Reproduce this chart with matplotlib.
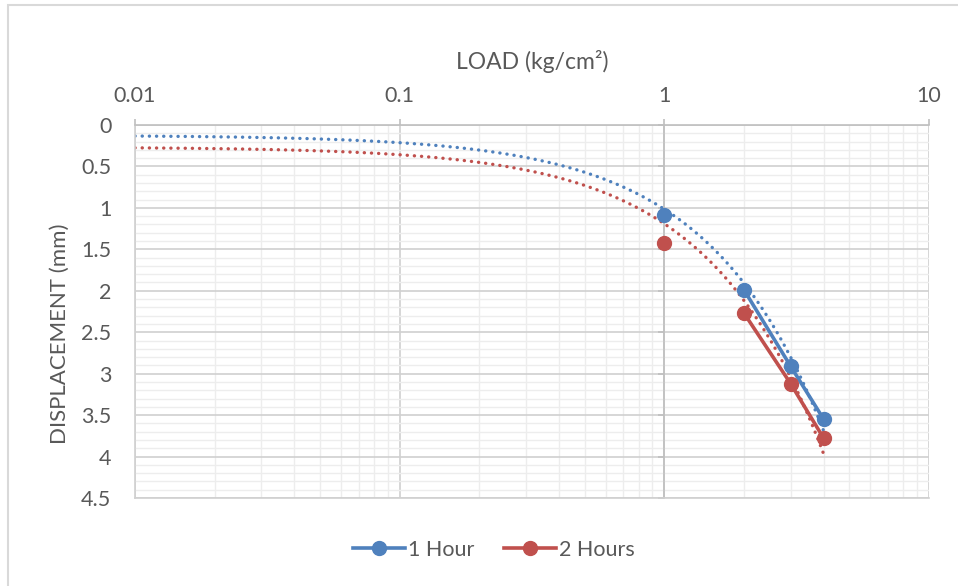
import numpy as np
import matplotlib.pyplot as plt
from matplotlib.ticker import FixedLocator, NullFormatter, MultipleLocator
from matplotlib.patches import Rectangle

# Load (kg/cm2) and displacement (mm) readings
load = [0, 1, 2, 3, 4]
disp_1h = [0, 1.09, 1.99, 2.91, 3.55]
disp_2h = [0, 1.42, 2.27, 3.12, 3.78]

series_names = ["1 Hour", "2 Hours"]
colors = ["#4F81BD", "#C0504D"]
y_ticks = [0, 0.5, 1, 1.5, 2, 2.5, 3, 3.5, 4, 4.5]
x_ticks = [0.01, 0.1, 1, 10]
x_tick_labels = ["0.01", "0.1", "1", "10"]

plt.rcParams["font.family"] = ["Lato", "DejaVu Sans"]
text_col = "#595959"

fig = plt.figure(figsize=(9.58, 5.86), dpi=100)
ax = fig.add_axes([135 / 958, 1 - 498 / 586, 794 / 958, 373 / 586])

# chart border
fig.patches.append(Rectangle((8 / 958, -0.02), 1.0, 1 - 5 / 586 + 0.02,
                             transform=fig.transFigure, fill=False,
                             edgecolor="#D9D9D9", lw=1.5))

ax.set_xscale("log")
ax.set_xlim(0.01, 10)
ax.set_ylim(4.5, 0)

ax.xaxis.set_major_locator(FixedLocator(x_ticks))
ax.xaxis.set_minor_locator(FixedLocator([m * 10.0 ** e for e in range(-2, 1) for m in range(2, 10)]))
ax.xaxis.set_minor_formatter(NullFormatter())
ax.set_xticklabels(x_tick_labels)
ax.yaxis.set_major_locator(FixedLocator(y_ticks))
ax.yaxis.set_minor_locator(MultipleLocator(0.1))
ax.set_yticklabels([f"{v:g}" for v in y_ticks])

ax.grid(True, which="major", color="#D0D0D0", lw=1.2)
ax.grid(True, which="minor", color="#EDEDED", lw=1.0)
ax.set_axisbelow(True)

ax.xaxis.tick_top()
ax.xaxis.set_label_position("top")
ax.tick_params(axis="x", which="major", direction="out", length=4, width=1.2,
               color="#BFBFBF", pad=10, labelsize=15.5, labelcolor=text_col)
ax.tick_params(axis="x", which="minor", length=0)

# vertical axis crosses at x = 1 (Excel log-axis default), labels sit at the low side
ax.spines["right"].set_position(("data", 1))
ax.tick_params(axis="y", which="major", left=False, right=True, labelleft=True,
               labelright=False, direction="in", length=4, width=1.2,
               color="#BFBFBF", pad=17, labelsize=15.5, labelcolor=text_col)
ax.tick_params(axis="y", which="minor", left=False, right=False)

for s in ["left", "bottom"]:
    ax.spines[s].set_color("#D0D0D0")
    ax.spines[s].set_linewidth(1.2)
ax.spines["top"].set_color("#BFBFBF")
ax.spines["top"].set_linewidth(1.2)
ax.spines["right"].set_color("#BFBFBF")
ax.spines["right"].set_linewidth(1.2)

x = np.array(load, dtype=float)
for name, ys, c in zip(series_names, [disp_1h, disp_2h], colors):
    ys = np.array(ys)
    # linear trendline (Excel), fitted on the full data set
    slope, icpt = np.polyfit(x, ys, 1)
    xt = np.geomspace(0.01, max(load), 400)
    ax.plot(xt, slope * xt + icpt, color=c, lw=2.4, linestyle=(0, (0.05, 2.1)),
            dash_capstyle="round", zorder=2)
    # solid segment only joins the 2..4 readings; the 1 kg/cm2 point stands alone
    ax.plot(x[2:], ys[2:], color=c, lw=2.6, zorder=3)
    ax.plot(x[1:], ys[1:], color=c, lw=0, marker="o", markersize=10, zorder=4)
    ax.plot([], [], color=c, lw=2.6, marker="o", markersize=10, label=name)

ax.set_xlabel("LOAD (kg/cm²)", fontsize=16.5, color=text_col, labelpad=12)
fig.text(60 / 958, 1 - 334 / 586, "DISPLACEMENT (mm)", rotation=90,
         ha="center", va="center", fontsize=16, color=text_col)

leg = fig.legend(loc="center", bbox_to_anchor=(494 / 958, 1 - 550 / 586), ncol=2,
                 frameon=False, fontsize=15.5, handlelength=2.4, columnspacing=1.4,
                 handletextpad=0.15)
for t in leg.get_texts():
    t.set_color(text_col)

plt.savefig("out.png", dpi=100)
